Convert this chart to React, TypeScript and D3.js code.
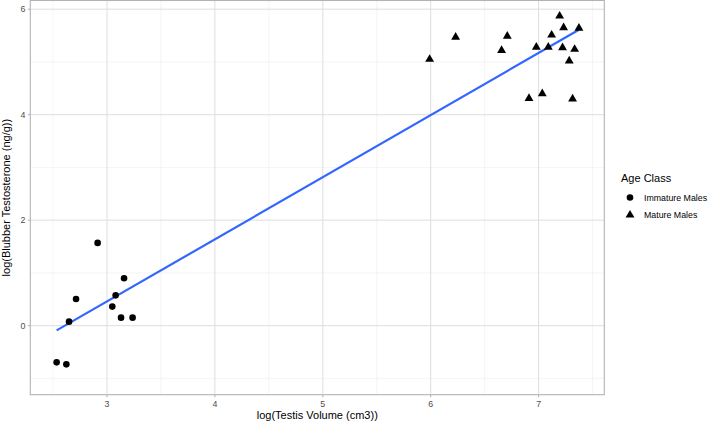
import React from "react";
import * as d3 from "d3";

const immatureX = [2.913, 3.158, 2.713, 3.08, 3.049, 2.648, 3.13, 3.237, 2.533, 2.623];
const immatureY = [1.569, 0.898, 0.506, 0.575, 0.361, 0.076, 0.152, 0.152, -0.696, -0.734];
const matureX = [5.99, 6.231, 6.71, 6.657, 7.195, 7.232, 7.374, 7.121, 6.979, 7.09, 7.222, 7.334, 7.284, 6.911, 7.034, 7.315];
const matureY = [5.05, 5.47, 5.49, 5.22, 5.87, 5.65, 5.64, 5.51, 5.28, 5.28, 5.27, 5.24, 5.02, 4.31, 4.4, 4.3];
const xTicks = [3, 4, 5, 6, 7];
const xMinor = [2.5, 3.5, 4.5, 5.5, 6.5, 7.5];
const yTicks = [0, 2, 4, 6];
const yMinor = [-1, 1, 3, 5];
const legendLabels = ["Immature Males", "Mature Males"];

const W = 716, H = 421;
const L = 30.3, R = 604.3, T = 0.5, B = 394.7;
const font = "Liberation Sans, Arial, Helvetica, sans-serif";

export default function App() {
  const x = d3.scaleLinear().domain([2.289, 7.609]).range([L, R]);
  const y = d3.scaleLinear().domain([-1.309, 6.165]).range([B, T]);

  const allX = [...immatureX, ...matureX];
  const allY = [...immatureY, ...matureY];
  const mx = d3.mean(allX)!, my = d3.mean(allY)!;
  let sxy = 0, sxx = 0;
  allX.forEach((v, i) => { sxy += (v - mx) * (allY[i] - my); sxx += (v - mx) * (v - mx); });
  const slope = sxy / sxx, icpt = my - slope * mx;
  const [x0, x1] = d3.extent(allX) as [number, number];
  const line = d3.line<number>().x(d => x(d)).y(d => y(icpt + slope * d));

  const tri = d3.symbol().type(d3.symbolTriangle).size(34)();
  const triL = d3.symbol().type(d3.symbolTriangle).size(34)();

  return (
    <svg width={W} height={H} style={{ position: "fixed", left: 0, top: 0, background: "#fff" }}>
      <rect x={0} y={0} width={W} height={H} fill="#fff" />
      {xMinor.map(v => (
        <line key={"xm" + v} x1={x(v)} x2={x(v)} y1={T} y2={B} stroke="#EBEBEB" strokeWidth={0.5} />
      ))}
      {yMinor.map(v => (
        <line key={"ym" + v} x1={L} x2={R} y1={y(v)} y2={y(v)} stroke="#EBEBEB" strokeWidth={0.5} />
      ))}
      {xTicks.map(v => (
        <line key={"xg" + v} x1={x(v)} x2={x(v)} y1={T} y2={B} stroke="#DEDEDE" strokeWidth={1} />
      ))}
      {yTicks.map(v => (
        <line key={"yg" + v} x1={L} x2={R} y1={y(v)} y2={y(v)} stroke="#DEDEDE" strokeWidth={1} />
      ))}
      <path d={line([x0, x1]) || ""} fill="none" stroke="#3366FF" strokeWidth={2.2} />
      {immatureX.map((v, i) => (
        <circle key={"c" + i} cx={x(v)} cy={y(immatureY[i])} r={3.3} fill="#000" />
      ))}
      {matureX.map((v, i) => (
        <path key={"t" + i} d={tri || ""} transform={`translate(${x(v)},${y(matureY[i])})`} fill="#000" />
      ))}
      <rect x={L} y={T} width={R - L} height={B - T} fill="none" stroke="#B3B3B3" strokeWidth={1.1} />
      {xTicks.map(v => (
        <g key={"xt" + v}>
          <line x1={x(v)} x2={x(v)} y1={B} y2={B + 2.5} stroke="#B3B3B3" strokeWidth={1} />
          <text x={x(v)} y={407} textAnchor="middle" fontFamily={font} fontSize={8.8} fill="#4D4D4D">{v}</text>
        </g>
      ))}
      {yTicks.map(v => (
        <g key={"yt" + v}>
          <line x1={L - 2.5} x2={L} y1={y(v)} y2={y(v)} stroke="#B3B3B3" strokeWidth={1} />
          <text x={25.5} y={y(v) + 3.1} textAnchor="end" fontFamily={font} fontSize={8.8} fill="#4D4D4D">{v}</text>
        </g>
      ))}
      <text x={(L + R) / 2} y={419} textAnchor="middle" fontFamily={font} fontSize={11} fill="#000">log(Testis Volume (cm3))</text>
      <text transform={`translate(10,${(T + B) / 2}) rotate(-90)`} textAnchor="middle" fontFamily={font} fontSize={11} fill="#000">log(Blubber Testosterone (ng/g))</text>
      <text x={621} y={182} fontFamily={font} fontSize={11} fill="#000">Age Class</text>
      <circle cx={630} cy={197.5} r={3.3} fill="#000" />
      <path d={triL || ""} transform="translate(630,215)" fill="#000" />
      <text x={644} y={200.5} fontFamily={font} fontSize={8.8} fill="#000">{legendLabels[0]}</text>
      <text x={644} y={218} fontFamily={font} fontSize={8.8} fill="#000">{legendLabels[1]}</text>
    </svg>
  );
}
